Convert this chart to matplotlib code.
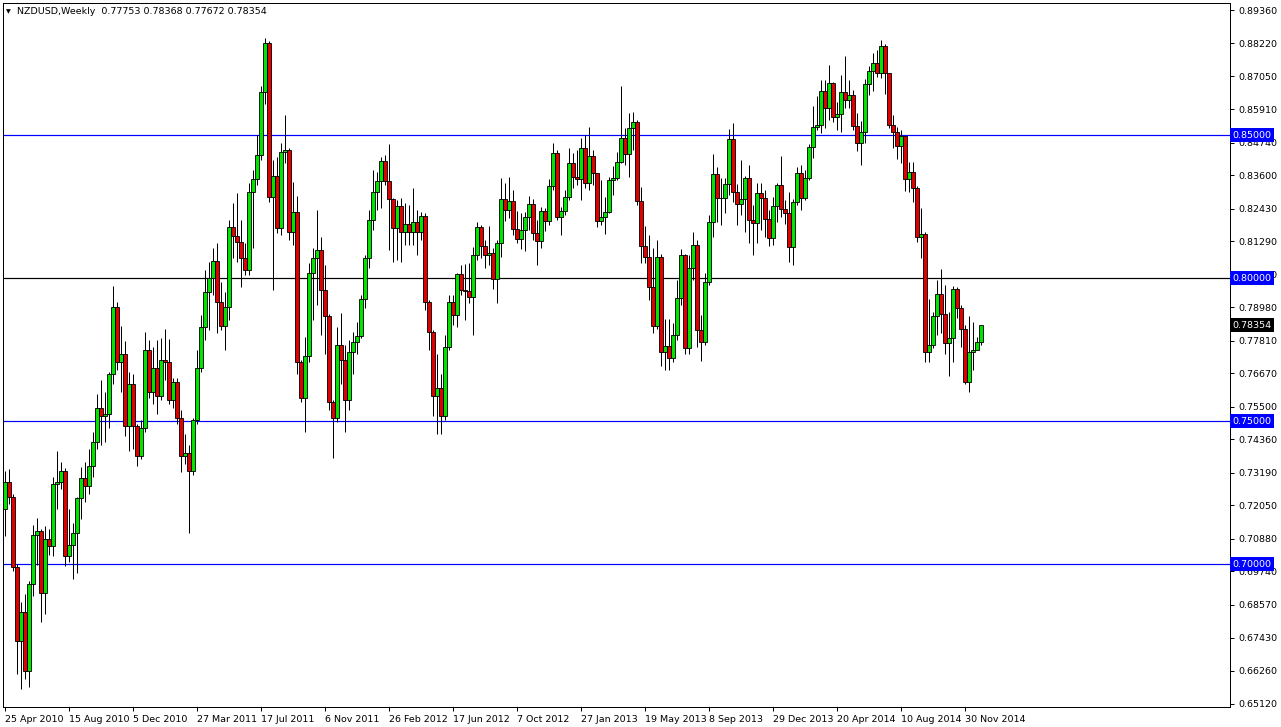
import matplotlib
matplotlib.use("Agg")
import matplotlib.pyplot as plt
from matplotlib.transforms import blended_transform_factory

# ---------------- data (weekly NZDUSD candles, 25 Apr 2010 .. Jan 2015) ----------------
first_open = 0.7191
closes = [
    .7286, .7233, .6989, .6730, .6832, .6626, .6929, .7103, .7114, .6898,
    .7086, .7062, .7279, .7286, .7324, .7027, .7065, .7107, .7230, .7300,
    .7272, .7342, .7425, .7547, .7516, .7523, .7663, .7900, .7705, .7733,
    .7481, .7631, .7481, .7377, .7474, .7750, .7603, .7684, .7586, .7715,
    .7705, .7575, .7638, .7512, .7377, .7387, .7324, .7505, .7687, .7830,
    .7952, .8001, .8060, .7917, .7833, .7900, .8179, .8147, .8126, .8071,
    .8029, .8301, .8347, .8430, .8650, .8821, .8284, .8357, .8175, .8441,
    .8448, .8161, .8231, .7705, .7582, .7726, .8019, .8071, .8099, .7959,
    .7868, .7568, .7512, .7767, .7715, .7575, .7740, .7777, .7798, .7928,
    .8071, .8203, .8301, .8340, .8410, .8340, .8277, .8175, .8252, .8161,
    .8189, .8161, .8196, .8161, .8217, .7917, .7812, .7589, .7617, .7519,
    .7760, .7917, .7872, .8015, .7959, .7956, .7935, .8081, .8179, .8112,
    .8081, .8088, .7998, .8123, .8277, .8238, .8270, .8172, .8137, .8168,
    .8214, .8259, .8158, .8130, .8235, .8199, .8322, .8438, .8214, .8235,
    .8284, .8403, .8354, .8347, .8454, .8333, .8427, .8368, .8199, .8214,
    .8231, .8343, .8350, .8406, .8489, .8434, .8524, .8545, .8270, .8112,
    .8075, .7970, .7833, .8075, .7743, .7763, .7722, .7802, .7931, .8081,
    .7756, .8036, .8116, .7819, .7777, .7987, .8196, .8364, .8280, .8280,
    .8329, .8486, .8301, .8259, .8277, .8350, .8203, .8193, .8298, .8280,
    .8207, .8140, .8252, .8326, .8242, .8228, .8109, .8266, .8368, .8280,
    .8350, .8458, .8528, .8535, .8654, .8594, .8682, .8563, .8573, .8650,
    .8622, .8640, .8531, .8472, .8510, .8678, .8724, .8752, .8717, .8810,
    .8717, .8535, .8510, .8461, .8496, .8347, .8371, .8315, .8144, .8154,
    .7740, .7767, .7868, .7945, .7875, .7774, .7791, .7963, .7896, .7823,
    .7638, .7743, .7747, .77753, .78354,
]
highs = [
    .7324, .7331, .7244, .6999, .6867, .6895, .6940, .7135, .7160, .7121,
    .7132, .7121, .7303, .7394, .7356, .7335, .7191, .7142, .7233, .7338,
    .7356, .7401, .7463, .7593, .7642, .7600, .7673, .7973, .7917, .7833,
    .7781, .7673, .7666, .7488, .7505, .7812, .7784, .7760, .7784, .7791,
    .7823, .7788, .7652, .7652, .7540, .7453, .7418, .7512, .7750, .7872,
    .8029, .8057, .8105, .8123, .7987, .7952, .8203, .8263, .8298, .8203,
    .8123, .8333, .8378, .8500, .8671, .8838, .8828, .8413, .8424, .8472,
    .8570, .8454, .8336, .8287, .7715, .7795, .8054, .8105, .8238, .8144,
    .8047, .7875, .7575, .7830, .7879, .7767, .7784, .7812, .7847, .7942,
    .8081, .8238, .8378, .8371, .8424, .8430, .8468, .8280, .8273, .8280,
    .8263, .8256, .8315, .8238, .8231, .8228, .7924, .7819, .7733, .7663,
    .7802, .7942, .7942, .8019, .8047, .8050, .8054, .8109, .8196, .8186,
    .8133, .8182, .8105, .8133, .8350, .8333, .8354, .8308, .8235, .8228,
    .8231, .8287, .8277, .8203, .8249, .8245, .8347, .8472, .8448, .8249,
    .8308, .8454, .8438, .8448, .8489, .8500, .8528, .8448, .8361, .8343,
    .8284, .8354, .8392, .8441, .8671, .8524, .8577, .8580, .8552, .8319,
    .8182, .8151, .8105, .8133, .8085, .7858, .7858, .7844, .7994, .8102,
    .8085, .8081, .8161, .8133, .7872, .8019, .8221, .8434, .8389, .8350,
    .8350, .8521, .8542, .8329, .8413, .8357, .8396, .8256, .8333, .8333,
    .8308, .8238, .8284, .8333, .8427, .8273, .8301, .8277, .8389, .8396,
    .8378, .8468, .8601, .8636, .8692, .8692, .8745, .8685, .8615, .8710,
    .8776, .8692, .8657, .8577, .8549, .8696, .8741, .8787, .8797, .8831,
    .8817, .8717, .8570, .8528, .8517, .8496, .8406, .8406, .8322, .8245,
    .8161, .7928, .7882, .7994, .8033, .7977, .7882, .7973, .7970, .7907,
    .7837, .7868, .7847, .7795, .78368,
]
lows = [
    .7097, .7209, .6975, .6615, .6563, .6598, .6570, .6888, .6996, .6797,
    .6825, .7030, .7027, .7191, .7261, .6993, .7007, .6947, .6968, .7156,
    .7216, .7244, .7303, .7401, .7418, .7425, .7477, .7628, .7680, .7600,
    .7446, .7394, .7401, .7342, .7366, .7463, .7582, .7558, .7523, .7575,
    .7645, .7558, .7547, .7488, .7321, .7349, .7110, .7310, .7488, .7673,
    .7784, .7819, .7942, .7809, .7819, .7750, .7854, .8071, .8057, .7970,
    .8012, .8012, .8105, .8326, .8413, .8608, .8266, .7959, .8158, .8151,
    .8403, .8133, .8116, .7663, .7568, .7463, .7705, .7854, .7907, .7802,
    .7733, .7540, .7370, .7498, .7628, .7460, .7540, .7663, .7733, .7791,
    .7896, .8036, .8168, .8238, .8245, .8326, .8099, .8057, .8064, .8057,
    .8116, .8116, .8116, .8081, .8133, .7889, .7750, .7516, .7453, .7453,
    .7505, .7750, .7837, .7830, .7942, .7854, .7914, .7802, .8064, .8071,
    .8036, .8047, .7963, .7914, .8075, .8199, .8210, .8151, .8123, .8102,
    .8096, .8168, .8133, .8047, .8105, .8165, .8186, .8308, .8203, .8151,
    .8221, .8273, .8315, .8326, .8273, .8315, .8308, .8326, .8179, .8186,
    .8154, .8228, .8291, .8343, .8403, .8396, .8354, .8448, .8256, .8054,
    .8054, .7924, .7809, .7823, .7691, .7680, .7680, .7708, .7784, .7907,
    .7733, .7733, .7994, .7760, .7711, .7767, .7977, .8144, .8196, .8186,
    .8228, .8291, .8266, .8186, .8221, .8161, .8123, .8081, .8123, .8168,
    .8144, .8112, .8116, .8196, .8214, .8189, .8057, .8047, .8256, .8238,
    .8273, .8343, .8420, .8517, .8507, .8524, .8552, .8545, .8517, .8510,
    .8594, .8594, .8517, .8445, .8396, .8472, .8640, .8654, .8703, .8699,
    .8643, .8524, .8454, .8417, .8403, .8305, .8301, .8266, .8126, .8071,
    .7705, .7708, .7756, .7802, .7809, .7733, .7656, .7708, .7861, .7760,
    .7628, .7603, .7680, .7750, .77672,
]
# weekly forex bars open at the previous week's close
opens = [first_open] + closes[:-1]

date_labels = ["25 Apr 2010", "15 Aug 2010", "5 Dec 2010", "27 Mar 2011", "17 Jul 2011",
               "6 Nov 2011", "26 Feb 2012", "17 Jun 2012", "7 Oct 2012", "27 Jan 2013",
               "19 May 2013", "8 Sep 2013", "29 Dec 2013", "20 Apr 2014", "10 Aug 2014",
               "30 Nov 2014"]
date_step = 16  # one label every 16 weekly bars

price_ticks = [0.89360, 0.88220, 0.87050, 0.85910, 0.84740, 0.83600, 0.82430, 0.81290,
               0.80130, 0.78980, 0.77810, 0.76670, 0.75500, 0.74360, 0.73190, 0.72050,
               0.70880, 0.69740, 0.68570, 0.67430, 0.66260, 0.65120]
blue_levels = [0.85, 0.75, 0.70]
black_levels = [0.80]
title_text = "NZDUSD,Weekly  0.77753 0.78368 0.77672 0.78354"
last_price = closes[-1]

# ---------------- figure ----------------
W, H = 1281, 727
fig = plt.figure(figsize=(W / 100, H / 100), dpi=100)
fig.patch.set_facecolor("white")
ax = fig.add_axes([3 / W, 20 / H, (1230 - 3) / W, (707 - 3) / H])
ax.set_facecolor("white")

n = len(closes)
xs = list(range(n))
px = 0.72  # one pixel in points

bull_c = "#00E400"
bear_c = "#E00000"

lo = [min(l, o, c) for l, o, c in zip(lows, opens, closes)]
hi = [max(h, o, c) for h, o, c in zip(highs, opens, closes)]
ax.vlines(xs, lo, hi, color="black", linewidth=px, zorder=3)

bottoms = [min(o, c) for o, c in zip(opens, closes)]
heights = [max(abs(c - o), 0.00004) for o, c in zip(opens, closes)]
colors = [bull_c if c >= o else bear_c for o, c in zip(opens, closes)]
ax.bar(xs, heights, bottom=bottoms, width=0.78, color=colors,
       edgecolor="black", linewidth=px * 0.85, zorder=4)

for lv in blue_levels:
    ax.axhline(lv, color="#0000FF", linewidth=px * 1.2, zorder=2)
for lv in black_levels:
    ax.axhline(lv, color="black", linewidth=px * 1.2, zorder=2)

ax.set_xlim(-0.5, 306.25)
ax.set_ylim(0.6500, 0.8962)

# right price axis
ax.yaxis.tick_right()
ax.set_yticks(price_ticks)
ax.set_yticklabels([f"{t:.5f}" for t in price_ticks])
ax.tick_params(axis="y", direction="out", length=3, width=px, pad=3,
               labelsize=6.8, colors="black")

# bottom date axis
ax.set_xticks([i * date_step for i in range(len(date_labels))])
ax.set_xticklabels(date_labels, ha="left")
ax.tick_params(axis="x", direction="out", length=3, width=px, pad=3,
               labelsize=6.8, colors="black")

for s in ax.spines.values():
    s.set_color("black")
    s.set_linewidth(px)

# boxed level labels on the price axis (they cover the nearby tick labels, as in MT4)
trans = blended_transform_factory(ax.transAxes, ax.transData)
for lv in blue_levels + black_levels:
    ax.text(1.002, lv, f"{lv:.5f}", transform=trans, fontsize=6.8, color="white",
            va="center", ha="left", zorder=20, clip_on=False,
            bbox=dict(boxstyle="square,pad=0.28", fc="#0000FF", ec="none"))
ax.text(1.002, last_price, f"{last_price:.5f}", transform=trans, fontsize=6.8,
        color="white", va="center", ha="left", zorder=20, clip_on=False,
        bbox=dict(boxstyle="square,pad=0.28", fc="black", ec="none"))

# title
fig.text(6 / W, 1 - 12 / H, "\u25BC", fontsize=4.5, color="black", va="center", ha="left")
fig.text(17 / W, 1 - 12 / H, title_text, fontsize=6.8, color="black", va="center", ha="left")

fig.savefig("out.png", dpi=100, facecolor="white")
